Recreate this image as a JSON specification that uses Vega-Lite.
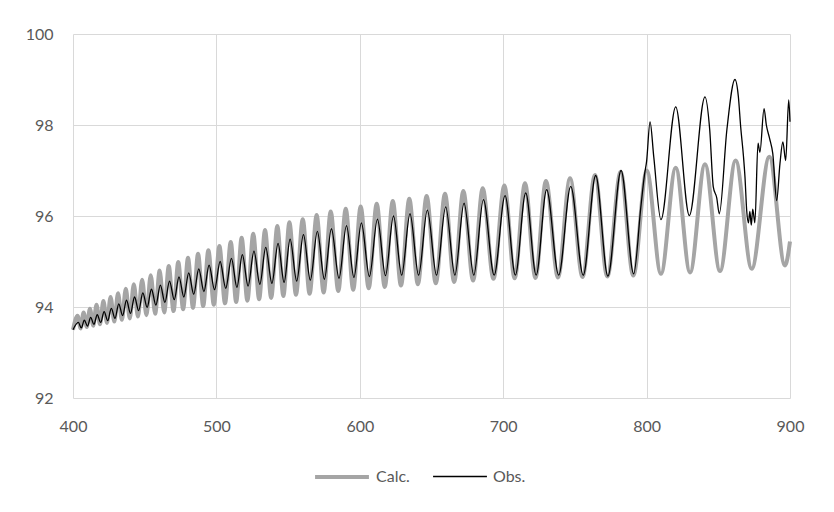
{
  "$schema": "https://vega.github.io/schema/vega-lite/v6.json",
  "width": 717,
  "height": 364,
  "autosize": {"type": "none"},
  "padding": {"left": 73, "top": 34, "right": 44, "bottom": 114},
  "background": "#ffffff",
  "config": {
    "view": {"stroke": null},
    "font": "Lato",
    "axis": {"labelFont": "Lato", "labelFontSize": 16, "labelColor": "#595959", "gridColor": "#d9d9d9", "gridWidth": 1, "domain": false, "ticks": false, "title": null, "labelFlush": false},
    "legend": {"labelFont": "Lato", "labelFontSize": 16, "labelColor": "#595959"}
  },
  "data": {"values": [
    {"s":"Calc.","x":400,"y":93.50},
    {"s":"Calc.","x":403.2,"y":93.81},{"s":"Calc.","x":405.3,"y":93.53},
    {"s":"Calc.","x":407.4,"y":93.88},{"s":"Calc.","x":409.6,"y":93.56},
    {"s":"Calc.","x":411.8,"y":93.96},{"s":"Calc.","x":414.1,"y":93.59},
    {"s":"Calc.","x":416.4,"y":94.05},{"s":"Calc.","x":418.8,"y":93.62},
    {"s":"Calc.","x":421.2,"y":94.13},{"s":"Calc.","x":423.7,"y":93.65},
    {"s":"Calc.","x":426.2,"y":94.22},{"s":"Calc.","x":428.8,"y":93.68},
    {"s":"Calc.","x":431.4,"y":94.30},{"s":"Calc.","x":434.1,"y":93.72},
    {"s":"Calc.","x":436.8,"y":94.40},{"s":"Calc.","x":439.6,"y":93.75},
    {"s":"Calc.","x":442.4,"y":94.50},{"s":"Calc.","x":445.3,"y":93.79},
    {"s":"Calc.","x":448.2,"y":94.60},{"s":"Calc.","x":451.2,"y":93.82},
    {"s":"Calc.","x":454.2,"y":94.70},{"s":"Calc.","x":457.3,"y":93.85},
    {"s":"Calc.","x":460.4,"y":94.80},{"s":"Calc.","x":463.6,"y":93.88},
    {"s":"Calc.","x":466.8,"y":94.90},{"s":"Calc.","x":470.1,"y":93.91},
    {"s":"Calc.","x":473.4,"y":94.99},{"s":"Calc.","x":476.8,"y":93.95},
    {"s":"Calc.","x":480.2,"y":95.08},{"s":"Calc.","x":483.7,"y":93.98},
    {"s":"Calc.","x":487.2,"y":95.17},{"s":"Calc.","x":490.8,"y":94.02},
    {"s":"Calc.","x":494.4,"y":95.25},{"s":"Calc.","x":498.2,"y":94.05},
    {"s":"Calc.","x":502.1,"y":95.34},{"s":"Calc.","x":506.0,"y":94.08},
    {"s":"Calc.","x":510.0,"y":95.43},{"s":"Calc.","x":513.8,"y":94.11},
    {"s":"Calc.","x":517.6,"y":95.52},{"s":"Calc.","x":521.6,"y":94.14},
    {"s":"Calc.","x":525.7,"y":95.61},{"s":"Calc.","x":529.8,"y":94.17},
    {"s":"Calc.","x":533.9,"y":95.69},{"s":"Calc.","x":538.2,"y":94.20},
    {"s":"Calc.","x":542.5,"y":95.78},{"s":"Calc.","x":546.7,"y":94.24},
    {"s":"Calc.","x":550.9,"y":95.86},{"s":"Calc.","x":555.5,"y":94.27},
    {"s":"Calc.","x":560.2,"y":95.93},{"s":"Calc.","x":565.0,"y":94.29},
    {"s":"Calc.","x":569.9,"y":96.02},{"s":"Calc.","x":574.8,"y":94.32},
    {"s":"Calc.","x":579.7,"y":96.10},{"s":"Calc.","x":585.0,"y":94.35},
    {"s":"Calc.","x":590.2,"y":96.16},{"s":"Calc.","x":595.4,"y":94.38},
    {"s":"Calc.","x":600.6,"y":96.21},{"s":"Calc.","x":606.2,"y":94.41},
    {"s":"Calc.","x":611.8,"y":96.27},{"s":"Calc.","x":617.4,"y":94.44},
    {"s":"Calc.","x":623.0,"y":96.33},{"s":"Calc.","x":628.7,"y":94.47},
    {"s":"Calc.","x":634.5,"y":96.38},{"s":"Calc.","x":640.5,"y":94.50},
    {"s":"Calc.","x":646.6,"y":96.44},{"s":"Calc.","x":653.0,"y":94.52},
    {"s":"Calc.","x":659.4,"y":96.49},{"s":"Calc.","x":665.8,"y":94.55},
    {"s":"Calc.","x":672.2,"y":96.55},{"s":"Calc.","x":679.0,"y":94.58},
    {"s":"Calc.","x":685.7,"y":96.61},{"s":"Calc.","x":693.2,"y":94.62},
    {"s":"Calc.","x":700.8,"y":96.67},{"s":"Calc.","x":708.0,"y":94.63},
    {"s":"Calc.","x":715.2,"y":96.72},{"s":"Calc.","x":722.5,"y":94.64},
    {"s":"Calc.","x":729.8,"y":96.77},{"s":"Calc.","x":738.2,"y":94.65},
    {"s":"Calc.","x":746.6,"y":96.83},{"s":"Calc.","x":755.3,"y":94.66},
    {"s":"Calc.","x":764.0,"y":96.90},{"s":"Calc.","x":772.6,"y":94.67},
    {"s":"Calc.","x":781.9,"y":96.97},{"s":"Calc.","x":790.7,"y":94.69},
    {"s":"Calc.","x":800.1,"y":97.00},{"s":"Calc.","x":810.0,"y":94.73},
    {"s":"Calc.","x":820.3,"y":97.06},{"s":"Calc.","x":830.3,"y":94.76},
    {"s":"Calc.","x":840.7,"y":97.14},{"s":"Calc.","x":851.2,"y":94.79},
    {"s":"Calc.","x":862.1,"y":97.22},{"s":"Calc.","x":873.3,"y":94.84},
    {"s":"Calc.","x":885.6,"y":97.30},{"s":"Calc.","x":896.5,"y":94.91},
    {"s":"Calc.","x":900,"y":95.44},

    {"s":"Obs.","x":400,"y":93.50},
    {"s":"Obs.","x":403.7,"y":93.66},{"s":"Obs.","x":405.8,"y":93.54},
    {"s":"Obs.","x":407.9,"y":93.71},{"s":"Obs.","x":410.1,"y":93.58},
    {"s":"Obs.","x":412.3,"y":93.77},{"s":"Obs.","x":414.6,"y":93.62},
    {"s":"Obs.","x":416.9,"y":93.83},{"s":"Obs.","x":419.3,"y":93.66},
    {"s":"Obs.","x":421.7,"y":93.90},{"s":"Obs.","x":424.2,"y":93.70},
    {"s":"Obs.","x":426.7,"y":93.97},{"s":"Obs.","x":429.3,"y":93.75},
    {"s":"Obs.","x":431.9,"y":94.07},{"s":"Obs.","x":434.6,"y":93.81},
    {"s":"Obs.","x":437.3,"y":94.15},{"s":"Obs.","x":440.1,"y":93.86},
    {"s":"Obs.","x":442.9,"y":94.22},{"s":"Obs.","x":445.8,"y":93.92},
    {"s":"Obs.","x":448.7,"y":94.31},{"s":"Obs.","x":451.7,"y":93.99},
    {"s":"Obs.","x":454.7,"y":94.39},{"s":"Obs.","x":457.8,"y":94.04},
    {"s":"Obs.","x":460.9,"y":94.48},{"s":"Obs.","x":464.1,"y":94.10},
    {"s":"Obs.","x":467.3,"y":94.57},{"s":"Obs.","x":470.6,"y":94.16},
    {"s":"Obs.","x":473.9,"y":94.66},{"s":"Obs.","x":477.3,"y":94.22},
    {"s":"Obs.","x":480.7,"y":94.75},{"s":"Obs.","x":484.2,"y":94.28},
    {"s":"Obs.","x":487.7,"y":94.84},{"s":"Obs.","x":491.3,"y":94.34},
    {"s":"Obs.","x":494.9,"y":94.92},{"s":"Obs.","x":498.7,"y":94.38},
    {"s":"Obs.","x":502.6,"y":95.00},{"s":"Obs.","x":506.5,"y":94.41},
    {"s":"Obs.","x":510.5,"y":95.07},{"s":"Obs.","x":514.3,"y":94.43},
    {"s":"Obs.","x":518.1,"y":95.15},{"s":"Obs.","x":522.1,"y":94.46},
    {"s":"Obs.","x":526.2,"y":95.23},{"s":"Obs.","x":530.3,"y":94.50},
    {"s":"Obs.","x":534.4,"y":95.31},{"s":"Obs.","x":538.7,"y":94.52},
    {"s":"Obs.","x":543.0,"y":95.40},{"s":"Obs.","x":547.2,"y":94.54},
    {"s":"Obs.","x":551.4,"y":95.49},{"s":"Obs.","x":556.0,"y":94.57},
    {"s":"Obs.","x":560.7,"y":95.59},{"s":"Obs.","x":565.5,"y":94.59},
    {"s":"Obs.","x":570.4,"y":95.66},{"s":"Obs.","x":575.3,"y":94.61},
    {"s":"Obs.","x":580.2,"y":95.72},{"s":"Obs.","x":585.5,"y":94.63},
    {"s":"Obs.","x":590.7,"y":95.79},{"s":"Obs.","x":595.9,"y":94.65},
    {"s":"Obs.","x":601.1,"y":95.85},{"s":"Obs.","x":606.7,"y":94.67},
    {"s":"Obs.","x":612.3,"y":95.93},{"s":"Obs.","x":617.9,"y":94.69},
    {"s":"Obs.","x":623.5,"y":96.00},{"s":"Obs.","x":629.2,"y":94.70},
    {"s":"Obs.","x":635.0,"y":96.05},{"s":"Obs.","x":641.0,"y":94.70},
    {"s":"Obs.","x":647.1,"y":96.13},{"s":"Obs.","x":653.5,"y":94.70},
    {"s":"Obs.","x":659.9,"y":96.20},{"s":"Obs.","x":666.3,"y":94.70},
    {"s":"Obs.","x":672.7,"y":96.28},{"s":"Obs.","x":679.5,"y":94.70},
    {"s":"Obs.","x":686.2,"y":96.36},{"s":"Obs.","x":693.7,"y":94.70},
    {"s":"Obs.","x":701.3,"y":96.45},{"s":"Obs.","x":708.5,"y":94.70},
    {"s":"Obs.","x":715.7,"y":96.51},{"s":"Obs.","x":723.0,"y":94.70},
    {"s":"Obs.","x":730.3,"y":96.58},{"s":"Obs.","x":738.7,"y":94.70},
    {"s":"Obs.","x":747.1,"y":96.65},{"s":"Obs.","x":755.8,"y":94.70},
    {"s":"Obs.","x":764.5,"y":96.89},{"s":"Obs.","x":773.0,"y":94.68},
    {"s":"Obs.","x":782.2,"y":97.00},{"s":"Obs.","x":791.0,"y":94.73},
    {"s":"Obs.","x":796.0,"y":96.2},{"s":"Obs.","x":798.5,"y":96.9},
    {"s":"Obs.","x":800.0,"y":97.2},{"s":"Obs.","x":802.4,"y":98.07},
    {"s":"Obs.","x":805.0,"y":97.3},{"s":"Obs.","x":810.0,"y":95.92},
    {"s":"Obs.","x":820.3,"y":98.40},{"s":"Obs.","x":829.8,"y":96.01},
    {"s":"Obs.","x":840.7,"y":98.62},{"s":"Obs.","x":844.0,"y":97.9},
    {"s":"Obs.","x":846.5,"y":96.64},{"s":"Obs.","x":848.9,"y":96.4},
    {"s":"Obs.","x":850.7,"y":96.05},{"s":"Obs.","x":856.0,"y":97.9},
    {"s":"Obs.","x":861.6,"y":99.0},{"s":"Obs.","x":864.0,"y":98.62},
    {"s":"Obs.","x":865.6,"y":97.96},{"s":"Obs.","x":867.5,"y":97.33},
    {"s":"Obs.","x":868.6,"y":96.86},{"s":"Obs.","x":869.8,"y":96.12},
    {"s":"Obs.","x":871.0,"y":95.85},{"s":"Obs.","x":872.0,"y":96.1},
    {"s":"Obs.","x":873.0,"y":95.8},{"s":"Obs.","x":874.0,"y":96.15},
    {"s":"Obs.","x":875.5,"y":95.85},{"s":"Obs.","x":877.7,"y":97.6},
    {"s":"Obs.","x":879.0,"y":97.4},{"s":"Obs.","x":881.9,"y":98.36},
    {"s":"Obs.","x":883.5,"y":98.0},{"s":"Obs.","x":885.8,"y":97.70},
    {"s":"Obs.","x":888.0,"y":97.37},{"s":"Obs.","x":890.7,"y":96.34},
    {"s":"Obs.","x":893.0,"y":97.15},{"s":"Obs.","x":895.0,"y":97.63},
    {"s":"Obs.","x":897.0,"y":97.22},{"s":"Obs.","x":899.1,"y":98.55},
    {"s":"Obs.","x":900.0,"y":98.07}
  ]},
  "mark": {"type": "line", "interpolate": "monotone"},
  "encoding": {
    "x": {"field": "x", "type": "quantitative", "scale": {"domain": [400, 900], "nice": false, "zero": false}, "axis": {"values": [400, 500, 600, 700, 800, 900], "labelPadding": 20}},
    "y": {"field": "y", "type": "quantitative", "scale": {"domain": [92, 100], "nice": false, "zero": false}, "axis": {"values": [92, 94, 96, 98, 100], "labelPadding": 20}},
    "color": {"field": "s", "type": "nominal", "scale": {"domain": ["Calc.", "Obs."], "range": ["#a5a5a5", "#000000"]}, "legend": {"title": null, "orient": "none", "direction": "horizontal", "legendX": 240, "legendY": 414, "symbolType": "stroke", "symbolSize": 2900, "columnPadding": 20, "labelOffset": 5}},
    "strokeWidth": {"field": "s", "type": "nominal", "scale": {"domain": ["Calc.", "Obs."], "range": [4, 1.3]}, "legend": {"title": null, "orient": "none", "direction": "horizontal", "legendX": 240, "legendY": 414, "symbolType": "stroke", "symbolSize": 2900, "columnPadding": 20, "labelOffset": 5}}
  }
}
